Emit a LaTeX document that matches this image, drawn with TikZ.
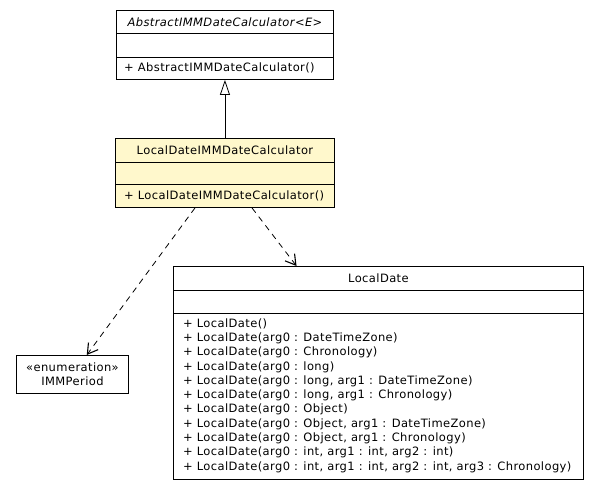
\documentclass[tikz,border=0pt]{standalone}
\usepackage{fontspec}
\setmainfont[LetterSpace=3.5]{DejaVu Sans}
\usetikzlibrary{arrows.meta,positioning,calc}
\definecolor{notefill}{RGB}{255,248,204}

\begin{document}
\begin{tikzpicture}[x=1pt,y=-1pt,
		every node/.style={font=\fontsize{11.5}{13}\selectfont},
		cls/.style={draw,line width=0.9pt,anchor=north west,inner sep=0pt},
		op/.style={anchor=west,inner sep=0pt},
		sep/.style={line width=0.9pt},
		dep/.style={line width=0.8pt,dash pattern=on 6pt off 5pt,-{Straight Barb[length=10pt,width=12pt,line width=1.1pt]}}]
	\useasboundingbox (0,0) rectangle (600,493);
	\node[cls,minimum width=217pt,minimum height=69pt] (abs) at (116,10) {};
	\node[cls,fill=notefill,minimum width=219pt,minimum height=69pt] (ldc) at (115,138) {};
	\node[cls,minimum width=410pt,minimum height=213pt] (ld) at (173,266) {};
	\node[cls,minimum width=112pt,minimum height=38pt,align=center,
		font=\fontsize{11.5}{14}\selectfont] (per) at (16,355) {«enumeration»\\IMMPeriod};
	\draw[sep] ($(abs.north west)+(0,23)$) -- ($(abs.north east)+(0,23)$);
	\draw[sep] ($(abs.north west)+(0,47)$) -- ($(abs.north east)+(0,47)$);
	\draw[sep] ($(ldc.north west)+(0,24)$) -- ($(ldc.north east)+(0,24)$);
	\draw[sep] ($(ldc.north west)+(0,46)$) -- ($(ldc.north east)+(0,46)$);
	\draw[sep] ($(ld.north west)+(0,24)$) -- ($(ld.north east)+(0,24)$);
	\draw[sep] ($(ld.north west)+(0,47)$) -- ($(ld.north east)+(0,47)$);
	\node (absname) at ($(abs.north)+(0,12)$) {\itshape AbstractIMMDateCalculator<E>};
	\node[op] (absop) at ($(abs.north west)+(8,58)$) {+ AbstractIMMDateCalculator()};
	\node (ldcname) at ($(ldc.north)+(0,12)$) {LocalDateIMMDateCalculator};
	\node[op] (ldcop) at ($(ldc.north west)+(9,58)$) {+ LocalDateIMMDateCalculator()};
	\node (ldname) at ($(ld.north)+(0,12)$) {LocalDate};
	\node[op] (ld1) at ($(ld.north west)+(10,58)$) {+ LocalDate()};
	\node[op] (ld2) at ($(ld.north west)+(10,72.3)$) {+ LocalDate(arg0 : DateTimeZone)};
	\node[op] (ld3) at ($(ld.north west)+(10,86.6)$) {+ LocalDate(arg0 : Chronology)};
	\node[op] (ld4) at ($(ld.north west)+(10,100.9)$) {+ LocalDate(arg0 : long)};
	\node[op] (ld5) at ($(ld.north west)+(10,115.2)$) {+ LocalDate(arg0 : long, arg1 : DateTimeZone)};
	\node[op] (ld6) at ($(ld.north west)+(10,129.5)$) {+ LocalDate(arg0 : long, arg1 : Chronology)};
	\node[op] (ld7) at ($(ld.north west)+(10,143.8)$) {+ LocalDate(arg0 : Object)};
	\node[op] (ld8) at ($(ld.north west)+(10,158.1)$) {+ LocalDate(arg0 : Object, arg1 : DateTimeZone)};
	\node[op] (ld9) at ($(ld.north west)+(10,172.4)$) {+ LocalDate(arg0 : Object, arg1 : Chronology)};
	\node[op] (ld10) at ($(ld.north west)+(10,186.7)$) {+ LocalDate(arg0 : int, arg1 : int, arg2 : int)};
	\node[op] (ld11) at ($(ld.north west)+(10,201)$) {+ LocalDate(arg0 : int, arg1 : int, arg2 : int, arg3 : Chronology)};
	\coordinate (dep1) at ($(ldc.south west)+(80,0)$);
	\coordinate (dep2) at ($(ldc.south west)+(137,0)$);
	\draw[-{Triangle[open,length=15pt,width=10pt]},line width=0.8pt] (ldc.north) -- (abs.south);
	\draw[dep] (dep1) -- (per);
	\draw[dep] (dep2) -- (ld);
\end{tikzpicture}
\end{document}
